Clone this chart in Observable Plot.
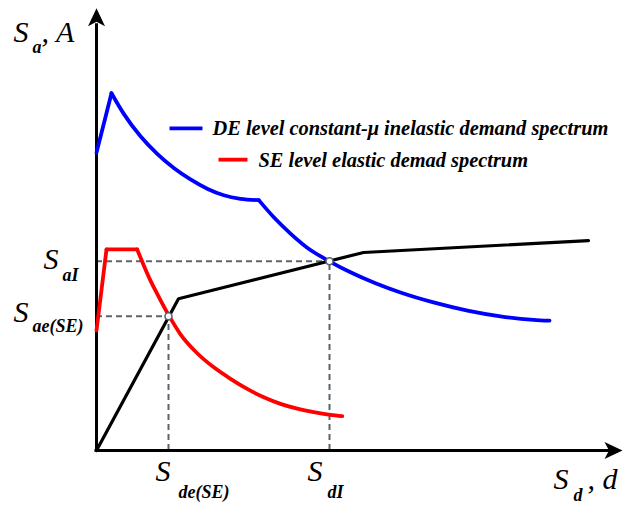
<!DOCTYPE html>
<html>
<head>
<meta charset="utf-8">
<script src="https://cdn.jsdelivr.net/npm/d3@7"></script>
<script src="https://cdn.jsdelivr.net/npm/@observablehq/plot@0.6"></script>
<style>
  html, body { margin: 0; padding: 0; background: #fff; }
  #chart svg { display: block; }
</style>
</head>
<body>
<div id="chart"></div>
<script>
// ---- data (schematic units) ----
// DE level constant-μ inelastic demand spectrum
const deX = [0, 3.0, 5.46, 8.8, 12.14, 15.46, 18.8, 22.14, 25.46, 28.8, 32.46, 35.46, 38.8, 42.14, 46.6, 50.8, 55.8, 60.8, 67.4, 74.2, 80.8, 87.4, 90.6];
const deY = [67.7, 81.2, 76.5, 71.4, 67.4, 64.2, 61.6, 59.5, 58.0, 57.2, 56.9, 53.0, 49.3, 46.1, 43.0, 40.5, 38.0, 35.9, 33.65, 31.8, 30.5, 29.7, 29.5];
const deBreaks = [0, 1, 10, 22];
// SE level elastic demand spectrum
const seX = [0, 2.0, 8.14, 9.46, 10.8, 12.14, 14.46, 16.8, 20.14, 23.46, 26.8, 30.14, 33.46, 36.8, 40.14, 43.46, 46.8, 49.14];
const seY = [27.3, 45.7, 45.7, 42.05, 38.6, 35.6, 30.7, 26.4, 22.1, 18.9, 16.3, 14.0, 12.1, 10.6, 9.5, 8.7, 8.1, 7.8];
const seBreaks = [0, 1, 2, 17];
// capacity curve
const capX = [0, 16.4, 53.4, 98.4];
const capY = [0, 34.5, 45.0, 47.7];
// performance points
const ptX = [14.4, 46.6];
const ptY = [30.5, 43.0];
const ptXSub = ["de(SE)", "dI"];
const ptYSub = ["ae(SE)", "aI"];
// legend
const legendNames = ["DE level constant-μ inelastic demand spectrum", "SE level elastic demad spectrum"];
const legendColors = ["#0000ff", "#ff0000"];
// axes
const xMax = 105.6, yMax = 100.5;
const axisTitleY = ["S", "a", ", A"];
const axisTitleX = ["S", "d", ", d"];

const font = "'Liberation Serif', 'Times New Roman', serif";

function segments(xs, ys, breaks) {
  const out = [];
  for (let s = 0; s < breaks.length - 1; s++)
    for (let i = breaks[s]; i <= breaks[s + 1]; i++) out.push({x: xs[i], y: ys[i], seg: s});
  return out;
}
const deData = segments(deX, deY, deBreaks);
const seData = segments(seX, seY, seBreaks);
const capData = capX.map((x, i) => ({x, y: capY[i]}));
const pts = ptX.map((x, i) => ({x, y: ptY[i], xs: ptXSub[i], ys: ptYSub[i]}));

const arrowUp = {draw(ctx) { ctx.moveTo(0, 0); ctx.lineTo(8.5, 18); ctx.lineTo(0, 13.5); ctx.lineTo(-8.5, 18); ctx.closePath(); }};
const arrowRight = {draw(ctx) { ctx.moveTo(0, 0); ctx.lineTo(-18, -8.5); ctx.lineTo(-13.5, 0); ctx.lineTo(-18, 8.5); ctx.closePath(); }};

const legendRows = legendNames.map((name, i) => ({name, color: legendColors[i], i}));
const lgX1 = [14.6, 24.4], lgX2 = [21.2, 30.2], lgTx = [23.2, 32.4], lgY = [73.2, 66.1];

const gray = "#5b646c";
const T = {textAnchor: "start", lineAnchor: "bottom", fontFamily: font, fontStyle: "italic", fill: "#000"};
const big = {...T, fontSize: 30};
const sub = {...T, fontSize: 18, fontWeight: "bold"};

const chart = Plot.plot({
  width: 624,
  height: 505,
  marginLeft: 96,
  marginRight: 0,
  marginTop: 10,
  marginBottom: 55,
  style: {fontFamily: font, background: "#fff"},
  x: {domain: [0, xMax], axis: null},
  y: {domain: [0, 100], axis: null},
  marks: [
    // dashed guides
    Plot.ruleY(pts, {y: "y", x1: 0, x2: "x", stroke: gray, strokeWidth: 2, strokeDasharray: "6,4"}),
    Plot.ruleX(pts, {x: "x", y1: 0, y2: "y", stroke: gray, strokeWidth: 2, strokeDasharray: "6,4"}),
    // axes
    Plot.ruleX([0], {y1: 0, y2: yMax - 3.5, stroke: "#000", strokeWidth: 3}),
    Plot.ruleY([0], {x1: -0.3, x2: xMax - 3, stroke: "#000", strokeWidth: 3}),
    Plot.dot([{x: 0, y: yMax}], {x: "x", y: "y", symbol: arrowUp, fill: "#000", stroke: null}),
    Plot.dot([{x: xMax - 0.4, y: 0}], {x: "x", y: "y", symbol: arrowRight, fill: "#000", stroke: null}),
    // spectra
    Plot.line(deData, {x: "x", y: "y", z: "seg", curve: "monotone-x", stroke: "#0000ff", strokeWidth: 3.8}),
    Plot.line(seData, {x: "x", y: "y", z: "seg", curve: "monotone-x", stroke: "#ff0000", strokeWidth: 3.8}),
    Plot.line(capData, {x: "x", y: "y", stroke: "#000", strokeWidth: 3.2, strokeLinejoin: "miter"}),
    Plot.dot(pts, {x: "x", y: "y", r: 3.5, fill: "#fff", stroke: gray, strokeWidth: 1.6}),
    // legend
    Plot.link(legendRows, {x1: d => lgX1[d.i], x2: d => lgX2[d.i], y1: d => lgY[d.i], y2: d => lgY[d.i], stroke: "color", strokeWidth: 3.8}),
    Plot.text(legendRows, {...T, x: d => lgTx[d.i], y: d => lgY[d.i], text: "name", dy: 7, fontSize: 20.4, fontWeight: "bold"}),
    // y-side labels
    Plot.text(pts, {...big, x: 0, y: "y", text: () => "S", dx: -83, dy: 6, filter: (d, i) => i === 0}),
    Plot.text(pts, {...sub, x: 0, y: "y", text: "ys", dx: -64, dy: 16, filter: (d, i) => i === 0}),
    Plot.text(pts, {...big, x: 0, y: "y", text: () => "S", dx: -53, dy: 8, filter: (d, i) => i === 1}),
    Plot.text(pts, {...sub, x: 0, y: "y", text: "ys", dx: -34, dy: 20, filter: (d, i) => i === 1}),
    // x-side labels
    Plot.text(pts, {...big, x: "x", y: 0, text: () => "S", dx: -13, dy: 30, filter: (d, i) => i === 0}),
    Plot.text(pts, {...sub, x: "x", y: 0, text: "xs", dx: 10, dy: 47, filter: (d, i) => i === 0}),
    Plot.text(pts, {...big, x: "x", y: 0, text: () => "S", dx: -22, dy: 30, filter: (d, i) => i === 1}),
    Plot.text(pts, {...sub, x: "x", y: 0, text: "xs", dx: -2, dy: 47, filter: (d, i) => i === 1}),
    // axis titles
    Plot.text([axisTitleY[0]], {...big, x: 0, y: yMax, text: d => d, dx: -83, dy: 34}),
    Plot.text([axisTitleY[1]], {...sub, x: 0, y: yMax, text: d => d, dx: -64, dy: 45}),
    Plot.text([axisTitleY[2]], {...big, x: 0, y: yMax, text: d => d, dx: -55, dy: 34}),
    Plot.text([axisTitleX[0]], {...big, x: xMax, y: 0, text: d => d, dx: -71, dy: 38}),
    Plot.text([axisTitleX[1]], {...sub, x: xMax, y: 0, text: d => d, dx: -51, dy: 50}),
    Plot.text([axisTitleX[2]], {...big, x: xMax, y: 0, text: d => d, dx: -37, dy: 38})
  ]
});
document.getElementById("chart").appendChild(chart);
</script>
</body>
</html>
